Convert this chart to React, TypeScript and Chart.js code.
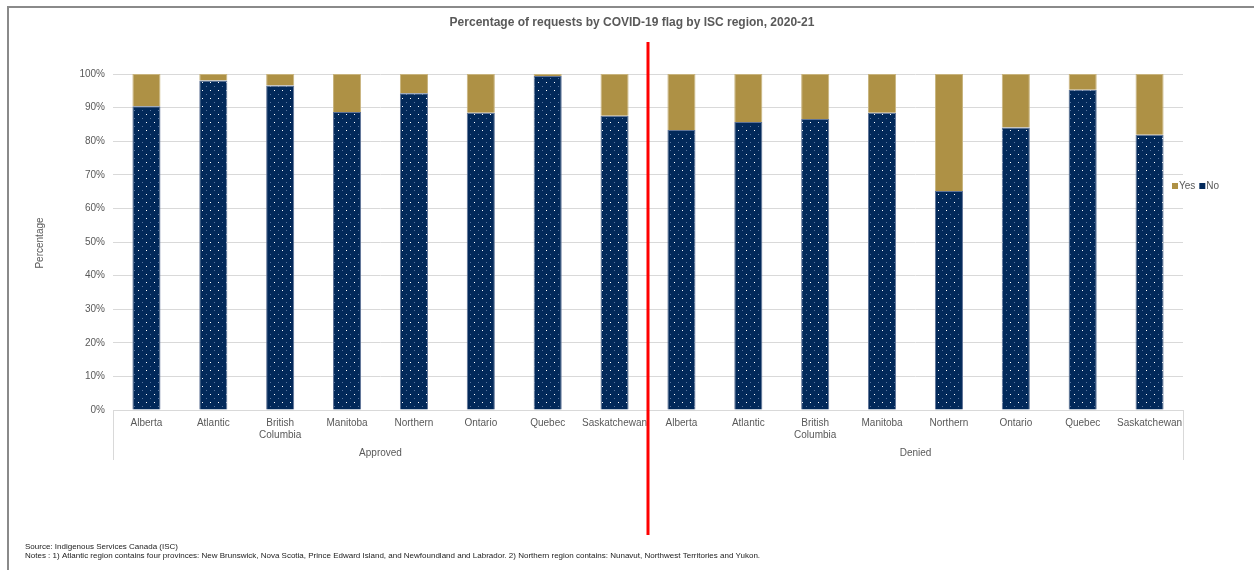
import React, { useEffect, useRef } from "react";
import { Chart, registerables } from "chart.js";

Chart.register(...registerables);

const TITLE = "Percentage of requests by COVID-19 flag by ISC region, 2020-21";
const Y_TITLE = "Percentage";
const GROUPS = ["Approved", "Denied"];
const REGIONS: (string | string[])[] = [
  "Alberta",
  "Atlantic",
  ["British", "Columbia"],
  "Manitoba",
  "Northern",
  "Ontario",
  "Quebec",
  "Saskatchewan",
];
const CATEGORIES = [...REGIONS, ...REGIONS];

const NO_APPROVED = [90.4, 98.1, 96.6, 88.7, 94.3, 88.5, 99.4, 87.6];
const NO_DENIED = [83.3, 85.7, 86.6, 88.5, 65.2, 84.1, 95.3, 81.9];
const YES_APPROVED = [9.6, 1.9, 3.4, 11.3, 5.7, 11.5, 0.6, 12.4];
const YES_DENIED = [16.7, 14.3, 13.4, 11.5, 34.8, 15.9, 4.7, 18.1];

const Y_TICKS = [0, 10, 20, 30, 40, 50, 60, 70, 80, 90, 100];

const SOURCE = "Source: Indigenous Services Canada (ISC)";
const NOTES =
  "Notes : 1) Atlantic region contains four provinces: New Brunswick, Nova Scotia, Prince Edward Island, and Newfoundland and Labrador. 2) Northern region contains: Nunavut, Northwest Territories and Yukon.";

const NAVY = "#02295a";
const GOLD = "#ae9145";
const TEXT = "#595959";
const GRID = "#d9d9d9";
const FONT = "'Liberation Sans', Arial, sans-serif";

function makePattern(): CanvasPattern | string {
  const c = document.createElement("canvas");
  c.width = 8;
  c.height = 8;
  const g = c.getContext("2d");
  if (!g) return NAVY;
  g.fillStyle = NAVY;
  g.fillRect(0, 0, 8, 8);
  g.fillStyle = "#ffffff";
  g.fillRect(2, 2, 1, 1);
  g.fillStyle = "rgba(150,170,205,0.6)";
  g.fillRect(6, 6, 1, 1);
  return g.createPattern(c, "repeat") || NAVY;
}

const decorPlugin = {
  id: "decor",
  beforeDraw(chart: any) {
    const ctx = chart.ctx as CanvasRenderingContext2D;
    ctx.save();
    ctx.strokeStyle = "#8a8a8a";
    ctx.lineWidth = 2;
    ctx.beginPath();
    ctx.moveTo(8, 570);
    ctx.lineTo(8, 7);
    ctx.lineTo(1254, 7);
    ctx.stroke();
    ctx.restore();
  },
  afterDraw(chart: any) {
    const ctx = chart.ctx as CanvasRenderingContext2D;
    const x = chart.scales.x;
    const area = chart.chartArea;
    const mid = (x.getPixelForValue(7) + x.getPixelForValue(8)) / 2;
    ctx.save();

    // title
    ctx.fillStyle = TEXT;
    ctx.font = `bold 12px ${FONT}`;
    ctx.textAlign = "center";
    ctx.textBaseline = "middle";
    ctx.fillText(TITLE, 632, 23);

    // y title
    ctx.save();
    ctx.translate(40, 243);
    ctx.rotate(-Math.PI / 2);
    ctx.font = `10px ${FONT}`;
    ctx.fillText(Y_TITLE, 0, 0);
    ctx.restore();

    // group separators and labels
    ctx.strokeStyle = GRID;
    ctx.lineWidth = 1;
    [x.left, mid, x.right].forEach((px: number) => {
      ctx.beginPath();
      ctx.moveTo(Math.round(px) + 0.5, area.bottom);
      ctx.lineTo(Math.round(px) + 0.5, 460);
      ctx.stroke();
    });
    ctx.font = `10px ${FONT}`;
    ctx.fillStyle = TEXT;
    ctx.fillText(GROUPS[0], (x.left + mid) / 2, 453);
    ctx.fillText(GROUPS[1], (mid + x.right) / 2, 453);

    // legend
    const items = [
      { label: chart.data.datasets[1].label, color: GOLD },
      { label: chart.data.datasets[0].label, color: NAVY },
    ];
    let lx = 1172;
    ctx.textAlign = "left";
    ctx.font = `10px ${FONT}`;
    items.forEach((it) => {
      ctx.fillStyle = it.color;
      ctx.fillRect(lx, 183, 6, 6);
      ctx.fillStyle = TEXT;
      ctx.fillText(it.label, lx + 7, 186);
      lx += 7 + ctx.measureText(it.label).width + 4;
    });

    // notes
    ctx.fillStyle = "#1a1a1a";
    ctx.font = `8px ${FONT}`;
    ctx.fillText(SOURCE, 25, 547);
    ctx.fillText(NOTES, 25, 555.5);

    // red divider
    ctx.strokeStyle = "#ff0000";
    ctx.lineWidth = 3;
    ctx.beginPath();
    ctx.moveTo(mid, 42);
    ctx.lineTo(mid, 535);
    ctx.stroke();
    ctx.restore();
  },
};

export default function App() {
  const ref = useRef<HTMLCanvasElement | null>(null);
  useEffect(() => {
    if (!ref.current) return;
    const pattern = makePattern();
    const chart = new Chart(ref.current, {
      type: "bar",
      data: {
        labels: CATEGORIES as any,
        datasets: [
          {
            label: "No",
            data: [...NO_APPROVED, ...NO_DENIED],
            backgroundColor: pattern as any,
            borderColor: "#5f7396",
            borderWidth: 1,
            barPercentage: 0.42,
            categoryPercentage: 1,
          },
          {
            label: "Yes",
            data: [...YES_APPROVED, ...YES_DENIED],
            backgroundColor: GOLD,
            borderColor: "#c8b47e",
            borderWidth: 1,
            barPercentage: 0.42,
            categoryPercentage: 1,
          },
        ],
      },
      options: {
        responsive: false,
        animation: false,
        layout: { padding: { top: 74, right: 71, left: 0, bottom: 0 } },
        plugins: {
          legend: { display: false },
          title: { display: false },
          tooltip: { enabled: false },
        },
        scales: {
          x: {
            stacked: true,
            grid: { display: false, drawTicks: false },
            border: { display: true, color: GRID },
            ticks: {
              color: TEXT,
              font: { family: FONT, size: 10 },
              padding: 7,
              maxRotation: 0,
              autoSkip: false,
            },
            afterFit: (s: any) => {
              s.height = 160;
            },
          },
          y: {
            stacked: true,
            min: 0,
            max: 100,
            afterBuildTicks: (s: any) => {
              s.ticks = Y_TICKS.map((v) => ({ value: v }));
            },
            grid: { color: GRID, drawTicks: false },
            border: { display: false },
            ticks: {
              color: TEXT,
              font: { family: FONT, size: 10 },
              padding: 8,
              callback: (v: any) => `${v}%`,
            },
            afterFit: (s: any) => {
              s.width = 113;
            },
          },
        },
      },
      plugins: [decorPlugin],
    });
    return () => chart.destroy();
  }, []);
  return (
    <div style={{ position: "absolute", left: 0, top: 0, width: 1254, height: 570, background: "#fff" }}>
      <canvas ref={ref} width={1254} height={570} style={{ display: "block" }} />
    </div>
  );
}
